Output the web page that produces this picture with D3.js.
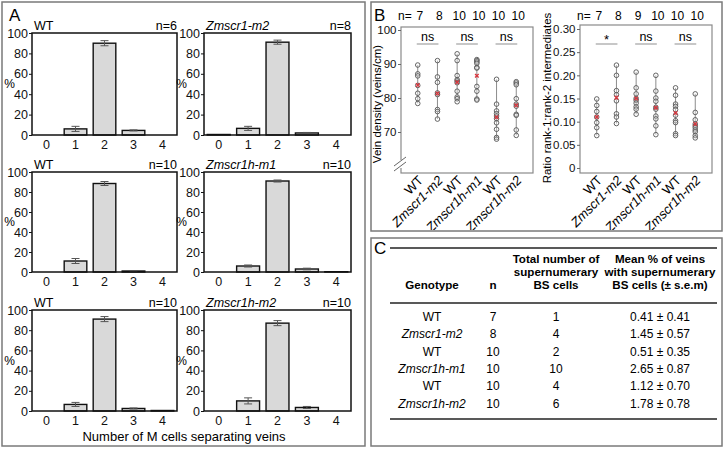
<!DOCTYPE html>
<html><head><meta charset="utf-8">
<script src="https://cdn.jsdelivr.net/npm/d3@7/dist/d3.min.js"></script>
<style>
body{margin:0;background:#fff}
svg{display:block;font-family:"Liberation Sans",Arial,Helvetica,sans-serif}
</style></head>
<body><svg id="fig" width="724" height="449"></svg>
<script>
// ---------------- DATA ----------------
// Panel A: % of vein pairs separated by N mesophyll cells
const cellCounts = ["0", "1", "2", "3", "4"];
const aGenotypes = ["WT", "Zmscr1-m2", "WT", "Zmscr1h-m1", "WT", "Zmscr1h-m2"];
const aN = [6, 8, 10, 10, 10, 10];
const pctWT1 = [0, 6, 90, 4.5, 0];
const errWT1 = [0, 2.5, 2.5, 0.5, 0];
const pctScr1m2 = [0.5, 6.5, 91, 2, 0];
const errScr1m2 = [0, 2, 2, 0.5, 0];
const pctWT2 = [0, 11, 88.5, 1, 0];
const errWT2 = [0, 2.5, 2, 0.3, 0];
const pctScr1hm1 = [0, 6, 91, 3, 0.3];
const errScr1hm1 = [0, 1, 1, 0.8, 0];
const pctWT3 = [0, 6.5, 91, 2.5, 0.5];
const errWT3 = [0, 2, 2.5, 0.5, 0];
const pctScr1hm2 = [0, 10, 87, 3.5, 0];
const errScr1hm2 = [0, 3, 2.5, 1, 0];
const aTicks = [0, 20, 40, 60, 80, 100];

// Panel B
const bGenotypes = ["WT", "Zmscr1-m2", "WT", "Zmscr1h-m1", "WT", "Zmscr1h-m2"];
const densityN = [7, 8, 10, 10, 10, 10];
const densityWT1 = [89.7, 87.1, 86.5, 83.7, 81.4, 79.8, 78.4];
const densityScr1m2 = [91.0, 86.2, 84.6, 81.5, 81.0, 76.6, 76.0, 73.8];
const densityWT2 = [93.0, 91.0, 86.6, 85.4, 85.0, 84.5, 82.0, 80.3, 79.8, 78.9];
const densityScr1hm1 = [91.3, 91.0, 90.6, 90.2, 89.0, 88.8, 83.4, 82.0, 79.7, 79.4];
const densityWT3 = [85.5, 78.2, 76.2, 75.4, 74.7, 73.9, 72.7, 70.8, 68.4, 67.9];
const densityScr1hm2 = [84.8, 84.4, 83.9, 79.8, 78.2, 77.6, 75.2, 74.9, 70.6, 69.0];
const densityTicks = [70, 80, 90, 100];
const densitySig = ["ns", "ns", "ns"];

const ratioN = [7, 8, 9, 10, 10, 10];
const ratioWT1 = [0.149, 0.135, 0.122, 0.110, 0.098, 0.087, 0.070];
const ratioScr1m2 = [0.222, 0.200, 0.167, 0.158, 0.145, 0.117, 0.110, 0.096];
const ratioWT2 = [0.207, 0.173, 0.160, 0.150, 0.146, 0.140, 0.132, 0.127, 0.116];
const ratioScr1hm1 = [0.200, 0.166, 0.151, 0.144, 0.131, 0.127, 0.112, 0.106, 0.091, 0.072];
const ratioWT3 = [0.173, 0.157, 0.138, 0.133, 0.126, 0.114, 0.102, 0.098, 0.074, 0.070];
const ratioScr1hm2 = [0.160, 0.120, 0.104, 0.095, 0.091, 0.087, 0.082, 0.078, 0.070, 0.065];
const ratioTicks = [0, 0.05, 0.10, 0.15, 0.20, 0.25, 0.30];
const ratioTickLabels = ["0", "0.05", "0.10", "0.15", "0.20", "0.25", "0.30"];
const ratioSig = ["*", "ns", "ns"];

// Panel C table
const cHeaders = [["Genotype"], ["n"], ["Total number of", "supernumerary", "BS cells"], ["Mean % of veins", "with supernumerary", "BS cells (\u00b1 s.e.m)"]];
const cGenotype = ["WT", "Zmscr1-m2", "WT", "Zmscr1h-m1", "WT", "Zmscr1h-m2"];
const cN = ["7", "8", "10", "10", "10", "10"];
const cTotal = ["1", "4", "2", "10", "4", "6"];
const cMean = ["0.41 \u00b1 0.41", "1.45 \u00b1 0.57", "0.51 \u00b1 0.35", "2.65 \u00b1 0.87", "1.12 \u00b1 0.70", "1.78 \u00b1 0.78"];

// ---------------- DRAW ----------------
const svg = d3.select("#fig");
const isMut = g => g !== "WT";
const frameColor = "#7a7a7a";
const FF = "Liberation Sans, Arial, sans-serif";

// panel frames
svg.append("rect").attr("x", 2).attr("y", 2).attr("width", 363).attr("height", 444)
  .attr("fill", "none").attr("stroke", frameColor).attr("stroke-width", 1.5);
svg.append("rect").attr("x", 371).attr("y", 2).attr("width", 351).attr("height", 229)
  .attr("fill", "none").attr("stroke", frameColor).attr("stroke-width", 1.5);
svg.append("rect").attr("x", 371).attr("y", 238).attr("width", 351).attr("height", 208)
  .attr("fill", "none").attr("stroke", frameColor).attr("stroke-width", 1.5);

// ---- Panel A ----
svg.append("text").attr("x", 9).attr("y", 21).attr("font-size", 17).text("A");
const aPct = [pctWT1, pctScr1m2, pctWT2, pctScr1hm1, pctWT3, pctScr1hm2];
const aErr = [errWT1, errScr1m2, errWT2, errScr1hm1, errWT3, errScr1hm2];
const colLeft = [32, 204], colRight = [177, 351];
const rowTop = [33, 172, 310], rowBottom = [135, 272, 411];

aPct.forEach((vals, i) => {
  const c = i % 2, r = Math.floor(i / 2);
  const x = d3.scaleBand().domain(cellCounts).range([colLeft[c], colRight[c]])
    .paddingInner(0.22).paddingOuter(0.11);
  const y = d3.scaleLinear().domain([0, 100]).range([rowBottom[r], rowTop[r]]);
  const g = svg.append("g");
  g.selectAll("rect.bar").data(vals).join("rect").attr("class", "bar")
    .attr("x", (d, j) => x(cellCounts[j]))
    .attr("width", x.bandwidth())
    .attr("y", d => y(d))
    .attr("height", d => y(0) - y(d))
    .attr("fill", "#d9d9d9")
    .attr("stroke", d => d > 0 ? "#111" : "none")
    .attr("stroke-width", 1.4);
  const errs = aErr[i];
  vals.forEach((v, j) => {
    const e = errs[j];
    if (e <= 0) return;
    const cx = x(cellCounts[j]) + x.bandwidth() / 2;
    const eg = g.append("g").attr("stroke", "#555").attr("stroke-width", 1);
    eg.append("line").attr("x1", cx).attr("x2", cx).attr("y1", y(v - e)).attr("y2", y(v + e));
    eg.append("line").attr("x1", cx - 4).attr("x2", cx + 4).attr("y1", y(v - e)).attr("y2", y(v - e));
    eg.append("line").attr("x1", cx - 4).attr("x2", cx + 4).attr("y1", y(v + e)).attr("y2", y(v + e));
  });
  g.append("rect").attr("x", colLeft[c]).attr("y", rowTop[r])
    .attr("width", colRight[c] - colLeft[c]).attr("height", rowBottom[r] - rowTop[r])
    .attr("fill", "none").attr("stroke", "#111").attr("stroke-width", 1.5);
  const ya = g.append("g").attr("transform", `translate(${colLeft[c]},0)`)
    .call(d3.axisLeft(y).tickValues(aTicks).tickSize(3).tickPadding(1));
  ya.select(".domain").remove();
  ya.selectAll("text").attr("font-size", 12.5).attr("font-family", FF).attr("fill", "#111");
  ya.selectAll("line").attr("stroke", "#111");
  const xa = g.append("g").attr("transform", `translate(0,${rowBottom[r]})`)
    .call(d3.axisBottom(x).tickSize(0).tickPadding(5));
  xa.select(".domain").remove();
  xa.selectAll("text").attr("font-size", 12.5).attr("font-family", FF).attr("fill", "#111");
  g.append("text").attr("x", colLeft[c] - 17).attr("y", y(50) + 4)
    .attr("text-anchor", "end").attr("font-size", 12).text("%");
  g.append("text").attr("x", colLeft[c] + 2).attr("y", rowTop[r] - 3).attr("font-size", 12.5)
    .attr("font-style", isMut(aGenotypes[i]) ? "italic" : "normal").text(aGenotypes[i]);
  g.append("text").attr("x", colRight[c]).attr("y", rowTop[r] - 3).attr("font-size", 12.5)
    .attr("text-anchor", "end").text("n=" + aN[i]);
});
svg.append("text").attr("x", 184).attr("y", 441).attr("text-anchor", "middle")
  .attr("font-size", 13).text("Number of M cells separating veins");

// ---- Panel B ----
svg.append("defs").append("clipPath").attr("id", "clipB").append("rect")
  .attr("x", 372).attr("y", 3).attr("width", 349).attr("height", 227);
const gB = svg.append("g").attr("clip-path", "url(#clipB)");
gB.append("text").attr("x", 374).attr("y", 21).attr("font-size", 17).text("B");

function stripPlot(opt) {
  const { left, right, top, bottom, yScale, groups, ns, ticks, tickLabels, sig, label, labelX, labelY } = opt;
  const x = d3.scalePoint().domain(d3.range(groups.length)).range([left, right]).padding(0.85);
  const g = gB.append("g");
  g.append("rect").attr("x", left).attr("y", top).attr("width", right - left).attr("height", bottom - top)
    .attr("fill", "none").attr("stroke", "#8a8a8a").attr("stroke-width", 1.2);
  const ya = g.append("g").attr("transform", `translate(${left},0)`)
    .call(d3.axisLeft(yScale).tickValues(ticks).tickSize(3).tickPadding(1.5)
      .tickFormat((d, i) => tickLabels ? tickLabels[i] : d));
  ya.select(".domain").remove();
  ya.selectAll("line").attr("stroke", "#666");
  ya.selectAll("text").attr("font-size", 11.5).attr("font-family", FF).attr("fill", "#111");
  g.append("text").attr("x", x(0) - 6).attr("y", 20).attr("font-size", 12).attr("text-anchor", "end").text("n=");
  g.selectAll("text.nlab").data(ns).join("text").attr("class", "nlab")
    .attr("x", (d, i) => x(i) + 2).attr("y", 20).attr("font-size", 12).attr("text-anchor", "middle").text(d => d);
  sig.forEach((s, k) => {
    const x1 = x(2 * k), x2 = x(2 * k + 1);
    g.append("line").attr("x1", x1 - 1).attr("x2", x2 + 1).attr("y1", 44).attr("y2", 44)
      .attr("stroke", "#b5b5b5").attr("stroke-width", 1.5);
    g.append("text").attr("x", (x1 + x2) / 2).attr("y", s === "*" ? 44 : 41)
      .attr("font-size", s === "*" ? 13 : 12.5).attr("text-anchor", "middle").text(s);
  });
  groups.forEach((vals, i) => {
    const cx = x(i);
    g.append("line").attr("x1", cx).attr("x2", cx)
      .attr("y1", yScale(d3.max(vals))).attr("y2", yScale(d3.min(vals)))
      .attr("stroke", "#8c8c8c").attr("stroke-width", 1);
    g.selectAll(null).data(vals).join("circle")
      .attr("cx", cx).attr("cy", d => yScale(d)).attr("r", 2.3)
      .attr("fill", "#fff").attr("fill-opacity", 0.3).attr("stroke", "#555").attr("stroke-width", 0.9);
    const m = yScale(d3.mean(vals));
    g.append("path").attr("d", `M${cx - 1.8},${m - 1.8}L${cx + 1.8},${m + 1.8}M${cx - 1.8},${m + 1.8}L${cx + 1.8},${m - 1.8}`)
      .attr("stroke", "#d8343c").attr("stroke-width", 1.3);
  });
  g.selectAll("text.xlab").data(bGenotypes).join("text").attr("class", "xlab")
    .attr("transform", (d, i) => `translate(${x(i) + 3},${bottom + 5}) rotate(-45)`)
    .attr("text-anchor", "end").attr("dy", "0.35em").attr("font-size", 13)
    .attr("font-style", d => isMut(d) ? "italic" : "normal").text(d => d);
  g.append("text").attr("transform", `translate(${labelX},${labelY}) rotate(-90)`)
    .attr("text-anchor", "middle").attr("font-size", 11.5).text(label);
  return g;
}

const densityScale = d3.scaleLinear().domain([70, 100]).range([132, 30]);
const gDen = stripPlot({
  left: 401, right: 533, top: 27, bottom: 173, yScale: densityScale,
  groups: [densityWT1, densityScr1m2, densityWT2, densityScr1hm1, densityWT3, densityScr1hm2],
  ns: densityN, ticks: densityTicks, sig: densitySig,
  label: "Vein density (veins/cm)", labelX: 381, labelY: 104
});
gDen.append("rect").attr("x", 398).attr("y", 160).attr("width", 6).attr("height", 8).attr("fill", "#fff");
gDen.append("path").attr("d", "M394,166L406,157M394,171L406,162").attr("stroke", "#666").attr("stroke-width", 1);

const ratioScale = d3.scaleLinear().domain([0, 0.30]).range([168, 29]);
stripPlot({
  left: 580, right: 712, top: 25, bottom: 173, yScale: ratioScale,
  groups: [ratioWT1, ratioScr1m2, ratioWT2, ratioScr1hm1, ratioWT3, ratioScr1hm2],
  ns: ratioN, ticks: ratioTicks, tickLabels: ratioTickLabels, sig: ratioSig,
  label: "Ratio rank-1:rank-2 intermediates", labelX: 551, labelY: 98
});

// ---- Panel C ----
const gC = svg.append("g");
gC.append("text").attr("x", 374).attr("y", 254).attr("font-size", 17).text("C");
const colX = [432, 493, 556, 660];
[248, 303, 419].forEach(yy => gC.append("line").attr("x1", 390).attr("x2", 717)
  .attr("y1", yy).attr("y2", yy).attr("stroke", "#222").attr("stroke-width", 1.5));
cHeaders.forEach((lines, k) => {
  const n = lines.length;
  lines.forEach((t, j) => {
    gC.append("text").attr("x", colX[k]).attr("y", 289 - (n - 1) * 13 + j * 13)
      .attr("text-anchor", "middle").attr("font-size", 11.6).attr("font-weight", "bold").text(t);
  });
});
const rowY = d3.range(cGenotype.length).map(i => 321 + i * 17.3);
[cGenotype, cN, cTotal, cMean].forEach((col, k) => {
  gC.selectAll(null).data(col).join("text")
    .attr("x", colX[k]).attr("y", (d, i) => rowY[i])
    .attr("text-anchor", "middle").attr("font-size", 12)
    .attr("font-style", (d, i) => k === 0 && isMut(d) ? "italic" : "normal")
    .text(d => d);
});
</script>
</body></html>
